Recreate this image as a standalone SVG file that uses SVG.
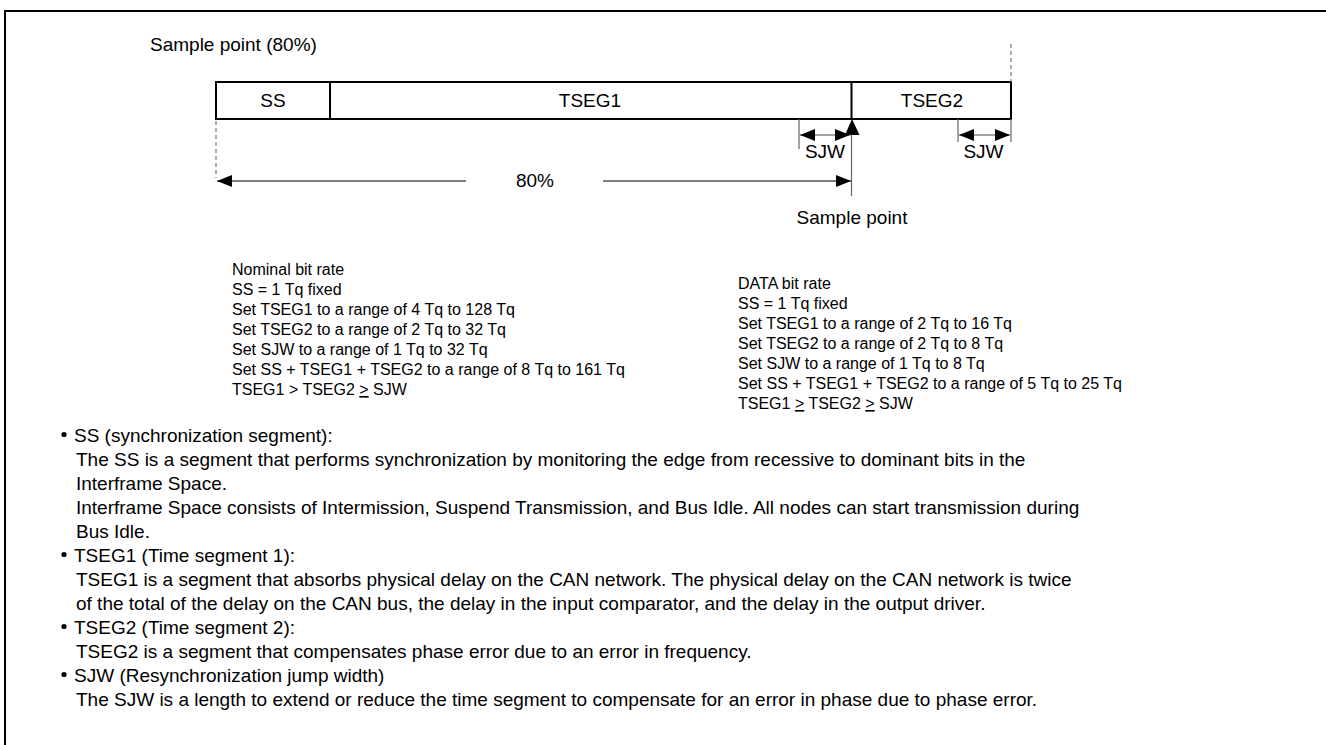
<svg xmlns="http://www.w3.org/2000/svg" width="1326" height="745" viewBox="0 0 1326 745">
<defs>
<style>
text{font-family:"Liberation Sans",Arial,sans-serif;fill:#000}
.lbl{font-size:19px}
.blk{font-size:16px}
.bul{font-size:19px}
.box{fill:#fff;stroke:#000;stroke-width:2}
.thin{stroke:#000;stroke-width:1;fill:none}
.grey{stroke:#666;stroke-width:1.2;fill:none}
.dash{stroke:#777;stroke-width:1.2;stroke-dasharray:4,3;fill:none}
</style>
<marker id="ah" viewBox="0 0 15 12" refX="15" refY="6" markerWidth="15" markerHeight="12" markerUnits="userSpaceOnUse" orient="auto-start-reverse">
<path d="M0,0L15,6L0,12z" fill="#000"/>
</marker>
</defs>
<rect x="5" y="11" width="1340" height="760" fill="none" stroke="#000" stroke-width="2"/>
<text class="lbl" x="150" y="51">Sample point (80%)</text>
<g id="bit">
<rect class="box" x="216" y="82" width="795" height="37"/>
<line x1="330" y1="82" x2="330" y2="119" stroke="#000" stroke-width="2"/>
<line x1="851.5" y1="82" x2="851.5" y2="119" stroke="#000" stroke-width="2"/>
</g>
<g id="ss"><text class="lbl" x="273" y="107" text-anchor="middle">SS</text></g>
<g id="tseg1"><text class="lbl" x="590" y="107" text-anchor="middle">TSEG1</text></g>
<g id="tseg2"><text class="lbl" x="932" y="107" text-anchor="middle">TSEG2</text></g>
<g id="connectors">
<line class="dash" x1="216" y1="121" x2="216" y2="178"/>
<line class="dash" x1="1011" y1="44" x2="1011" y2="82"/>
<line class="thin" x1="466" y1="181" x2="217" y2="181" marker-end="url(#ah)"/>
<line class="thin" x1="603" y1="181" x2="851" y2="181" marker-end="url(#ah)"/>
<line class="grey" x1="851.5" y1="196" x2="851.5" y2="121"/>
<path d="M845,135L852,119L859.5,135z" fill="#000"/>
<line class="grey" x1="799" y1="119" x2="799" y2="149"/>
<line class="grey" x1="825" y1="135" x2="800" y2="135" marker-end="url(#ah)"/>
<line class="grey" x1="825" y1="135" x2="850" y2="135" marker-end="url(#ah)"/>
<line class="grey" x1="958" y1="119" x2="958" y2="142"/>
<line class="grey" x1="1011" y1="119" x2="1011" y2="142"/>
<line class="grey" x1="984" y1="135" x2="959" y2="135" marker-end="url(#ah)"/>
<line class="grey" x1="984" y1="135" x2="1010" y2="135" marker-end="url(#ah)"/>
</g>
<text class="lbl" x="535" y="187" text-anchor="middle">80%</text>
<text class="lbl" x="825" y="158" text-anchor="middle">SJW</text>
<text class="lbl" x="983.5" y="158" text-anchor="middle">SJW</text>
<text class="lbl" x="852" y="224" text-anchor="middle">Sample point</text>
<g id="nominal" class="blk">
<text x="232" y="275">Nominal bit rate</text>
<text x="232" y="295">SS = 1 Tq fixed</text>
<text x="232" y="315">Set TSEG1 to a range of 4 Tq to 128 Tq</text>
<text x="232" y="335">Set TSEG2 to a range of 2 Tq to 32 Tq</text>
<text x="232" y="355">Set SJW to a range of 1 Tq to 32 Tq</text>
<text x="232" y="375">Set SS + TSEG1 + TSEG2 to a range of 8 Tq to 161 Tq</text>
<text x="232" y="395">TSEG1 &gt; TSEG2 <tspan text-decoration="underline">&gt;</tspan> SJW</text>
</g>
<g id="data" class="blk">
<text x="738" y="289">DATA bit rate</text>
<text x="738" y="309">SS = 1 Tq fixed</text>
<text x="738" y="329">Set TSEG1 to a range of 2 Tq to 16 Tq</text>
<text x="738" y="349">Set TSEG2 to a range of 2 Tq to 8 Tq</text>
<text x="738" y="369">Set SJW to a range of 1 Tq to 8 Tq</text>
<text x="738" y="389">Set SS + TSEG1 + TSEG2 to a range of 5 Tq to 25 Tq</text>
<text x="738" y="409">TSEG1 <tspan text-decoration="underline">&gt;</tspan> TSEG2 <tspan text-decoration="underline">&gt;</tspan> SJW</text>
</g>
<g id="notes" class="bul">
<circle cx="64" cy="434.5" r="2.6" fill="#000"/>
<text x="74" y="442">SS (synchronization segment):</text>
<text x="76" y="466">The SS is a segment that performs synchronization by monitoring the edge from recessive to dominant bits in the</text>
<text x="76" y="490">Interframe Space.</text>
<text x="76" y="514">Interframe Space consists of Intermission, Suspend Transmission, and Bus Idle. All nodes can start transmission during</text>
<text x="76" y="538">Bus Idle.</text>
<circle cx="64" cy="554.5" r="2.6" fill="#000"/>
<text x="74" y="562">TSEG1 (Time segment 1):</text>
<text x="76" y="586">TSEG1 is a segment that absorbs physical delay on the CAN network. The physical delay on the CAN network is twice</text>
<text x="76" y="610">of the total of the delay on the CAN bus, the delay in the input comparator, and the delay in the output driver.</text>
<circle cx="64" cy="626.5" r="2.6" fill="#000"/>
<text x="74" y="634">TSEG2 (Time segment 2):</text>
<text x="76" y="658">TSEG2 is a segment that compensates phase error due to an error in frequency.</text>
<circle cx="64" cy="674.5" r="2.6" fill="#000"/>
<text x="74" y="682">SJW (Resynchronization jump width)</text>
<text x="76" y="706">The SJW is a length to extend or reduce the time segment to compensate for an error in phase due to phase error.</text>
</g>
</svg>
